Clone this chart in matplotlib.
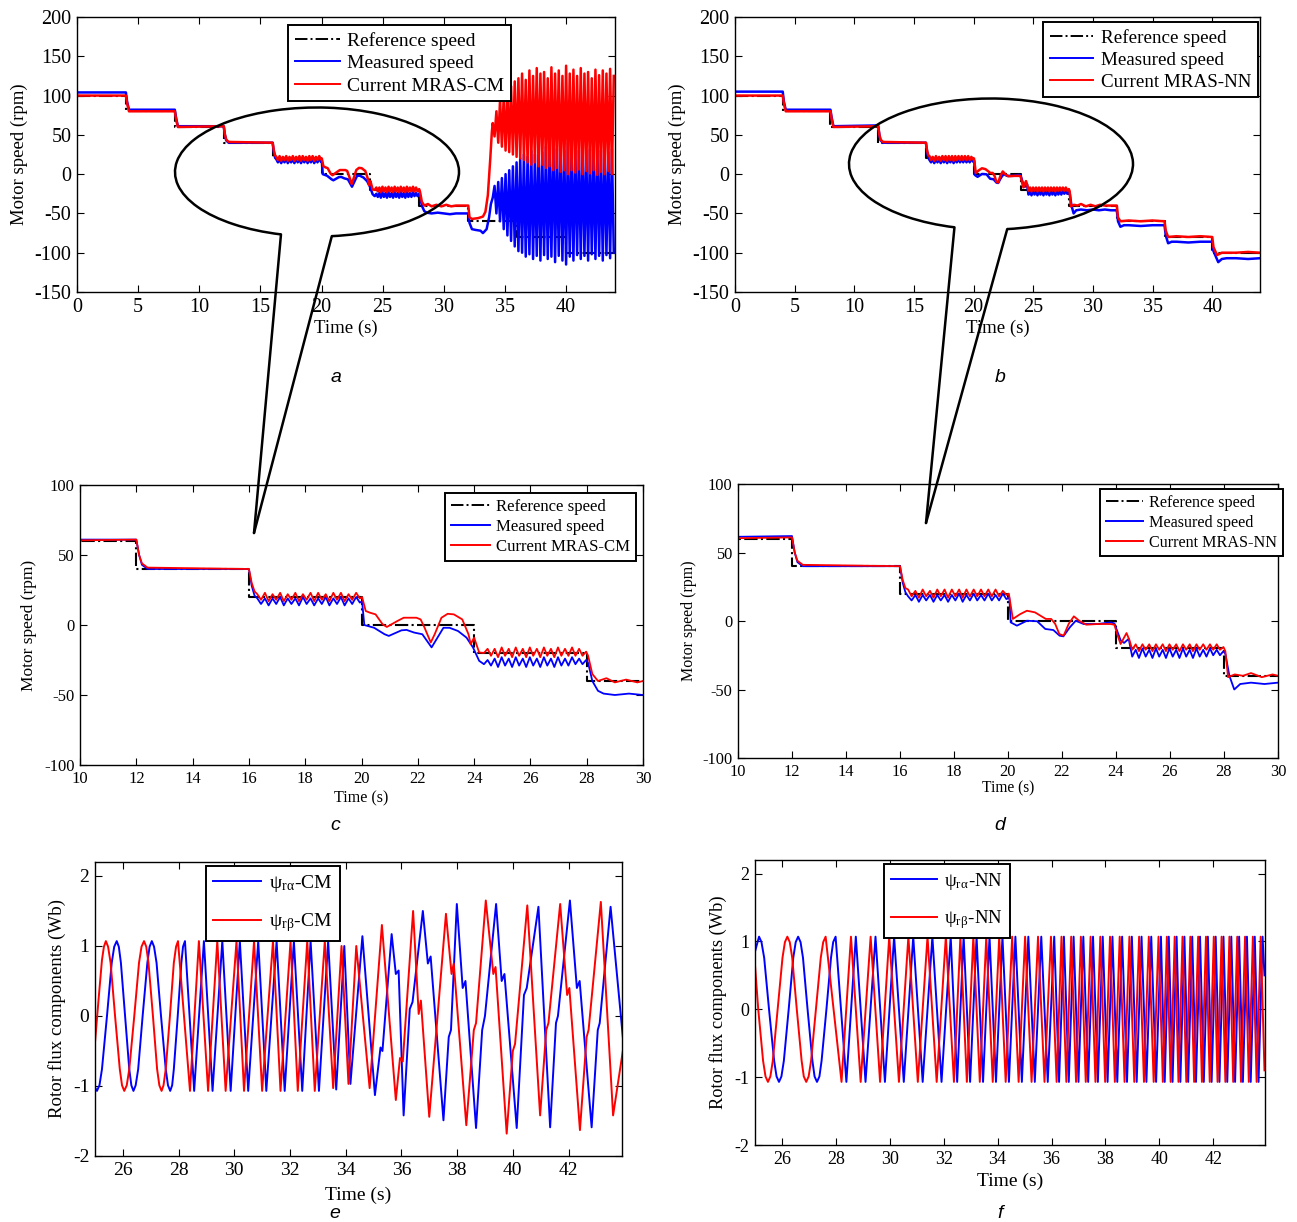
import matplotlib
matplotlib.use("Agg")
import matplotlib.pyplot as plt
from matplotlib.patches import Arc
import numpy as np

W, H = 1297, 1222
BLUE = "#0000ff"
RED = "#ff0000"
SERIF = "Liberation Serif"

# --- speed reference (same step profile for both observers) ---
STEP_T = [0, 4, 8, 12, 16, 20, 24, 28, 32, 36, 40, 44]
REF_LEVELS = [100, 80, 60, 40, 20, 0, -20, -40, -60, -80, -100]

# --- speed ripple during the 20 rpm and -20 rpm steps (extrema) ---
RIPPLE16_T = [16.30, 16.43, 16.57, 16.70, 16.84, 16.97, 17.11, 17.24, 17.38, 17.51,
              17.65, 17.78, 17.92, 18.05, 18.19, 18.32, 18.46, 18.59, 18.73, 18.86,
              19.00, 19.13, 19.27, 19.40, 19.54, 19.67, 19.81, 19.94]
CM_MEAS_R16 = [19, 15, 19, 14, 19, 15, 20, 14, 19, 15, 19, 14, 20, 15,
               19, 14, 19, 15, 20, 14, 19, 15, 20, 14, 19, 15, 20, 16]
CM_EST_R16 = [22, 18, 23, 17, 22, 18, 23, 17, 22, 18, 23, 17, 22, 18,
              23, 17, 23, 18, 22, 17, 23, 18, 23, 17, 22, 18, 23, 19]
NN_MEAS_R16 = [18, 15, 19, 14, 19, 15, 19, 14, 19, 15, 19, 14, 19, 15,
               20, 14, 19, 15, 20, 15, 19, 15, 20, 15, 19, 15, 20, 16]
NN_EST_R16 = [23, 18, 22, 17, 23, 18, 22, 17, 23, 18, 23, 17, 23, 18,
              23, 17, 23, 18, 23, 18, 23, 18, 23, 18, 23, 18, 22, 19]

RIPPLE24_T = [24.60, 24.73, 24.85, 24.98, 25.10, 25.23, 25.35, 25.48, 25.60, 25.73,
              25.85, 25.98, 26.10, 26.23, 26.35, 26.48, 26.60, 26.73, 26.85, 26.98,
              27.10, 27.23, 27.35, 27.48, 27.60, 27.73, 27.85, 27.98]
CM_MEAS_R24 = [-29, -24, -30, -23, -29, -24, -30, -23, -29, -24, -30, -23, -29, -24,
               -30, -23, -29, -24, -30, -23, -29, -24, -29, -23, -28, -24, -28, -25]
CM_EST_R24 = [-22, -17, -23, -16, -22, -17, -23, -16, -22, -17, -23, -16, -22, -17,
              -23, -16, -22, -17, -23, -16, -22, -17, -22, -16, -22, -17, -22, -19]
NN_MEAS_R24 = [-26, -21, -27, -20, -26, -21, -27, -20, -26, -21, -27, -20, -26, -21,
               -27, -20, -26, -21, -27, -20, -26, -21, -26, -20, -25, -21, -25, -22]
NN_EST_R24 = [-21, -17, -22, -17, -21, -17, -22, -17, -21, -17, -22, -17, -21, -17,
              -22, -17, -21, -17, -22, -17, -21, -17, -21, -17, -21, -17, -21, -19]

# --- early steps (0 - 16 s) ---
EARLY_T = [0, 4.0, 4.1, 4.25, 8.0, 8.1, 8.25, 12.0, 12.1, 12.2, 12.4, 16.0, 16.1, 16.2]
CM_MEAS_EARLY = [104, 104, 92, 82, 82, 72, 61, 61, 50, 43, 40, 40, 28, 21]
CM_EST_EARLY = [100, 100, 90, 80, 80, 70, 60, 61, 50, 44, 41, 40, 30, 24]
NN_MEAS_EARLY = [105, 105, 92, 82, 82, 72, 61, 62, 50, 43, 40, 40, 28, 21]
NN_EST_EARLY = [100, 100, 90, 80, 80, 70, 60, 61, 50, 44, 41, 40, 30, 24]

# --- zero speed step (20 - 24.5 s) ---
CM_MEAS_MID_T = [20.02, 20.10, 20.45, 20.82, 20.97, 21.42, 21.60, 21.87, 22.16, 22.49,
                 22.70, 22.91, 23.13, 23.43, 23.73, 23.96, 24.18, 24.35, 24.48]
CM_MEAS_MID = [17, 0, -2, -6.6, -7.8, -3.8, -3.5, -5.4, -6.6, -16,
               -9, -2, -2, -4.3, -9, -16, -25.6, -28, -25]
CM_EST_MID_T = [20.02, 20.15, 20.30, 20.50, 20.75, 20.90, 21.27, 21.50, 21.95, 22.10,
                22.24, 22.46, 22.60, 22.84, 23.06, 23.28, 23.58, 23.80, 23.88, 24.00,
                24.18, 24.35, 24.48]
CM_EST_MID = [20, 10, 8.8, 7.6, 0.5, -1.4, 2.8, 5.2, 5.2, 4,
              -1.9, -12.5, -6.6, 5.2, 8, 7.6, 4, -6.6, -13.7, -9,
              -19.6, -20, -17]
NN_MEAS_MID_T = [20.05, 20.10, 20.33, 20.70, 21.08, 21.38, 21.68, 21.91, 22.05, 22.29,
                 22.51, 22.80, 23.33, 23.79, 23.94, 24.17, 24.30, 24.47]
NN_MEAS_MID = [17, -1, -3.4, 0.2, -0.2, -5.8, -6.6, -10.7, -11.2, -4.6,
               0.2, -2.2, -2.2, -1, -1.7, -14, -16, -13]
NN_EST_MID_T = [20.03, 20.18, 20.45, 20.70, 21.00, 21.40, 21.60, 21.75, 21.90, 22.06,
                22.25, 22.44, 22.65, 22.90, 23.33, 23.79, 23.94, 24.05, 24.17, 24.39,
                24.50]
NN_EST_MID = [20, 1.5, 5, 7.5, 6.3, 1.5, 1.5, -2.2, -9.5, -10.7,
              -2, 3.4, 0, -2.7, -2.2, -2.2, -2.7, -10, -16.8, -8.8,
              -14]

# --- late steps (28 s onwards) ---
CM_MEAS_LATE_T = [28.05, 28.2, 28.4, 28.6, 29.0, 29.5, 30.0, 30.5, 31.0, 31.5, 32.0,
                  32.1, 32.3, 32.6, 33.0, 33.2, 33.5, 33.7, 33.85]
CM_MEAS_LATE = [-27, -40, -47, -49, -50, -49, -50, -51, -50, -50, -50,
                -62, -70, -71, -72, -75, -70, -55, -38]
CM_EST_LATE_T = [28.05, 28.2, 28.4, 28.7, 29.0, 29.4, 29.8, 30.2, 30.6, 31.0, 31.5,
                 32.0, 32.1, 32.3, 32.8, 33.2, 33.4, 33.6, 33.8, 33.93]
CM_EST_LATE = [-22, -35, -40, -38, -41, -39, -41, -39, -41, -40, -40,
               -40, -55, -57, -56, -54, -48, -27, 20, 54]
NN_MEAS_LATE_T = [28.05, 28.2, 28.38, 28.6, 29.0, 29.5, 30.0, 30.5, 31.0, 31.5, 32.0,
                  32.1, 32.3, 32.6, 33.0, 34.0, 35.0, 36.0, 36.1, 36.3, 36.6, 37.0,
                  38.0, 39.0, 40.0, 40.1, 40.5, 40.8, 41.2, 42.0, 43.0, 44.0]
NN_MEAS_LATE = [-24, -40, -50, -46, -45, -46, -45, -46, -45, -46, -46,
                -60, -67, -65, -65, -66, -65, -65, -78, -88, -86, -86,
                -87, -86, -86, -98, -112, -108, -107, -107, -108, -107]
NN_EST_LATE_T = [28.05, 28.15, 28.4, 28.7, 29.0, 29.4, 29.8, 30.2, 30.6, 31.0, 31.5,
                 32.0, 32.1, 32.3, 33.0, 34.0, 35.0, 36.0, 36.1, 36.3, 37.0, 38.0,
                 39.0, 40.0, 40.1, 40.4, 40.8, 42.0, 43.0, 44.0]
NN_EST_LATE = [-22, -41, -39, -40, -38, -41, -39, -41, -39, -40, -40,
               -40, -55, -60, -59, -60, -59, -60, -72, -80, -79, -80,
               -79, -80, -93, -103, -100, -100, -99, -100]

# --- CM observer instability after 34 s (oscillation extrema) ---
OSC_T = [34.00, 34.15, 34.30, 34.45, 34.60, 34.75, 34.90, 35.05, 35.20, 35.35,
         35.50, 35.65, 35.80, 35.95, 36.10, 36.25, 36.40, 36.55, 36.70, 36.85,
         37.00, 37.15, 37.30, 37.45, 37.60, 37.75, 37.90, 38.05, 38.20, 38.35,
         38.50, 38.65, 38.80, 38.95, 39.10, 39.25, 39.40, 39.55, 39.70, 39.85,
         40.00, 40.15, 40.30, 40.45, 40.60, 40.75, 40.90, 41.05, 41.20, 41.35,
         41.50, 41.65, 41.80, 41.95, 42.10, 42.25, 42.40, 42.55, 42.70, 42.85,
         43.00, 43.15, 43.30, 43.45, 43.60, 43.75, 43.90]
CM_EST_OSC = [65, 48, 80, 40, 95, 35, 100, 30, 105, 28,
              112, 25, 118, 22, 122, 20, 128, 18, 120, 15,
              132, 12, 125, 15, 135, 10, 128, 12, 130, 8,
              122, 10, 136, 5, 128, 8, 132, 3, 125, 5,
              138, 0, 128, 5, 133, 2, 125, 6, 135, 0,
              128, 4, 130, 1, 122, 5, 133, -1, 126, 3,
              132, 0, 128, 4, 134, 0, 125]
CM_MEAS_OSC = [-30, -15, -50, -10, -60, -5, -70, 0, -78, 5,
               -85, 10, -92, 15, -98, 20, -100, 25, -105, 22,
               -102, 30, -108, 25, -104, 35, -110, 28, -103, 35,
               -108, 30, -105, 45, -112, 32, -104, 38, -110, 30,
               -115, 40, -105, 28, -110, 35, -103, 30, -108, 38,
               -104, 30, -110, 32, -102, 28, -108, 35, -104, 30,
               -110, 33, -103, 28, -107, 32, -100]

# --- rotor flux, CM observer (extrema and shoulders) ---
E_ALPHA_T = [25.00, 25.07, 25.16, 25.25, 25.43, 25.60, 25.69, 25.78,
             25.855, 25.93, 26.08, 26.23, 26.305, 26.38,
             26.46, 26.55, 26.71, 26.88, 26.96, 27.04,
             27.12, 27.21, 27.37, 27.54, 27.62, 27.70,
             27.77, 27.83, 27.97, 28.10, 28.16, 28.23,
             28.56, 28.91, 29.22, 29.57, 29.87, 30.20, 30.50, 30.86,
             31.15, 31.52, 31.81, 32.14, 32.44, 32.74, 33.04, 33.37, 33.66, 33.95,
             34.17, 34.60, 35.05, 35.25, 35.32, 35.65, 35.80, 35.90, 36.08, 36.30,
             36.40, 36.77, 36.95, 37.05, 37.51, 37.70, 37.78, 37.99, 38.20, 38.30,
             38.68, 38.90, 39.00, 39.40, 39.60, 39.70, 40.14, 40.40, 40.50, 40.92,
             41.34, 41.55, 41.62, 42.05, 42.30, 42.40, 42.83, 43.05, 43.12, 43.51,
             43.95]
E_ALPHA = [-1.02, -1.07, -0.99, -0.76, 0.0, 0.76, 0.99, 1.07,
           0.99, 0.76, 0.0, -0.76, -0.99, -1.07,
           -0.99, -0.76, 0.0, 0.76, 0.99, 1.07,
           0.99, 0.76, 0.0, -0.76, -0.99, -1.07,
           -0.99, -0.76, 0.0, 0.76, 0.99, 1.07,
           -1.07, 1.07, -1.07, 1.07, -1.07, 1.07, -1.07, 1.07,
           -1.07, 1.07, -1.07, 1.07, -1.07, 1.07, -1.07, 1.07, -1.05, 1.00,
           -0.97, 1.14, -1.13, -0.45, -0.50, 1.17, 0.60, 0.65, -1.42, 0.10,
           0.20, 1.50, 0.75, 0.85, -1.49, -0.30, -0.20, 1.60, 0.40, 0.50,
           -1.60, -0.20, 0.00, 1.60, 0.50, 0.60, -1.60, 0.30, 0.40, 1.56,
           -1.59, -0.10, 0.00, 1.65, 0.40, 0.50, -1.59, -0.20, -0.10, 1.56,
           -0.30]
E_BETA_T = [25.00, 25.12, 25.25, 25.32, 25.39,
            25.47, 25.56, 25.72, 25.89, 25.97, 26.05,
            26.14, 26.23, 26.41, 26.58, 26.67, 26.76,
            26.84, 26.92, 27.08, 27.23, 27.31, 27.39,
            27.46, 27.54, 27.69, 27.83, 27.91, 27.98,
            28.41, 28.73, 29.06, 29.39, 29.69, 30.08, 30.35, 30.71, 31.00, 31.39,
            31.66, 32.02, 32.28, 32.62, 32.89, 33.25, 33.55, 33.85, 34.10, 34.38,
            34.86, 35.30, 35.80, 35.95, 36.05, 36.42, 36.62, 36.70, 37.00, 37.60,
            37.80, 37.88, 38.33, 38.60, 38.68, 39.03, 39.30, 39.38, 39.78, 40.00,
            40.08, 40.52, 40.98, 41.20, 41.28, 41.70, 41.95, 42.03, 42.41, 42.65,
            42.72, 43.16, 43.60, 43.95]
E_BETA = [-0.38, 0.20, 0.80, 0.99, 1.07,
          0.99, 0.76, 0.0, -0.76, -0.99, -1.07,
          -0.99, -0.76, 0.0, 0.76, 0.99, 1.07,
          0.99, 0.76, 0.0, -0.76, -0.99, -1.07,
          -0.99, -0.76, 0.0, 0.76, 0.99, 1.07,
          -1.07, 1.07, -1.07, 1.07, -1.07, 1.07, -1.07, 1.07, -1.07, 1.07,
          -1.07, 1.07, -1.07, 1.07, -1.07, 1.07, -1.03, 1.00, -0.97, 1.00,
          -1.03, 1.30, -1.20, -0.60, -0.65, 1.50, 0.03, 0.22, -1.44, 1.46,
          0.60, 0.75, -1.56, -0.20, -0.10, 1.65, 0.60, 0.70, -1.68, -0.50,
          -0.40, 1.58, -1.42, -0.20, -0.10, 1.60, 0.30, 0.40, -1.63, -0.30,
          -0.20, 1.63, -1.42, -0.50]

# --- rotor flux, NN observer (panel f) ---
F_ALPHA_T = [25.00, 25.15, 25.24, 25.34, 25.52, 25.71, 25.80, 25.89,
             25.98, 26.07, 26.25, 26.42, 26.51, 26.60,
             26.69, 26.78, 26.95, 27.13, 27.21, 27.30,
             27.39, 27.47, 27.65, 27.82, 27.90, 27.99,
             28.39, 28.74, 29.10, 29.47, 29.82, 30.16, 30.52, 30.87, 31.22, 31.58,
             31.92, 32.26, 32.50, 32.74, 32.98, 33.22, 33.46, 33.70, 33.94, 34.18,
             34.42, 34.66, 34.90, 35.14, 35.38, 35.62, 35.86, 36.10, 36.28, 36.46,
             36.64, 36.82, 37.00, 37.18, 37.36, 37.54, 37.72, 37.90, 38.08, 38.26,
             38.44, 38.62, 38.80, 38.98, 39.16, 39.34, 39.52, 39.70, 39.88, 40.06,
             40.20, 40.35, 40.49, 40.64, 40.78, 40.93, 41.07, 41.22, 41.36, 41.51,
             41.65, 41.80, 41.94, 42.09, 42.23, 42.38, 42.52, 42.67, 42.81, 42.96,
             43.10, 43.25, 43.39, 43.54, 43.68, 43.83, 43.90]
F_ALPHA = ([0.85, 1.07, 0.99, 0.76, 0.0, -0.76, -0.99, -1.07,
            -0.99, -0.76, 0.0, 0.76, 0.99, 1.07,
            0.99, 0.76, 0.0, -0.76, -0.99, -1.07,
            -0.99, -0.76, 0.0, 0.76, 0.99, 1.07]
           + [-1.07, 1.07] * 38 + [0.5])
F_BETA_T = [25.00, 25.12, 25.30, 25.39, 25.48,
            25.57, 25.66, 25.84, 26.02, 26.11, 26.20,
            26.29, 26.38, 26.55, 26.73, 26.81, 26.90,
            26.99, 27.08, 27.26, 27.44, 27.53, 27.62,
            28.21, 28.56, 28.92, 29.29, 29.64, 29.98, 30.34, 30.69, 31.04, 31.40,
            31.74, 32.08, 32.38, 32.62, 32.86, 33.10, 33.34, 33.58, 33.82, 34.06,
            34.30, 34.54, 34.78, 35.02, 35.26, 35.50, 35.74, 35.98, 36.19, 36.37,
            36.55, 36.73, 36.91, 37.09, 37.27, 37.45, 37.63, 37.81, 37.99, 38.17,
            38.35, 38.53, 38.71, 38.89, 39.07, 39.25, 39.43, 39.61, 39.79, 39.97,
            40.13, 40.28, 40.42, 40.57, 40.71, 40.86, 41.00, 41.15, 41.29, 41.44,
            41.58, 41.73, 41.87, 42.02, 42.16, 42.31, 42.45, 42.60, 42.74, 42.89,
            43.03, 43.18, 43.32, 43.47, 43.61, 43.76, 43.90]
F_BETA = ([0.65, 0.0, -0.76, -0.99, -1.07,
           -0.99, -0.76, 0.0, 0.76, 0.99, 1.07,
           0.99, 0.76, 0.0, -0.76, -0.99, -1.07,
           -0.99, -0.76, 0.0, 0.76, 0.99, 1.07]
          + [-1.07, 1.07] * 38 + [-0.9])


def join(*parts):
    t, v = [], []
    for pt, pv in parts:
        t += list(pt)
        v += list(pv)
    return np.array(t), np.array(v)


def style(ax, xlim, ylim, xticks, yticks, size):
    ax.set_xlim(xlim)
    ax.set_ylim(ylim)
    ax.set_xticks(xticks)
    ax.set_yticks(yticks)
    ax.tick_params(direction="in", top=True, right=True, length=5, width=0.8,
                   labelsize=size, pad=4)
    for s in ax.spines.values():
        s.set_linewidth(1.0)
    for lab in ax.get_xticklabels() + ax.get_yticklabels():
        lab.set_family(SERIF)


def legend(ax, fig, x, y, size, hl, spacing):
    leg = ax.legend(loc="upper left", bbox_to_anchor=(x / W, 1 - y / H),
                    bbox_transform=fig.transFigure, frameon=True,
                    fancybox=False, edgecolor="black", framealpha=1, borderaxespad=0,
                    handlelength=hl, handletextpad=0.4, labelspacing=spacing,
                    borderpad=0.35, prop={"family": SERIF, "size": size})
    leg.get_frame().set_linewidth(1.4)
    return leg


plt.rcParams["axes.unicode_minus"] = False
plt.rcParams["mathtext.fontset"] = "stix"
plt.rcParams["font.family"] = SERIF

cm_meas = join((EARLY_T, CM_MEAS_EARLY), (RIPPLE16_T, CM_MEAS_R16), (CM_MEAS_MID_T, CM_MEAS_MID),
               (RIPPLE24_T, CM_MEAS_R24), (CM_MEAS_LATE_T, CM_MEAS_LATE), (OSC_T, CM_MEAS_OSC))
cm_est = join((EARLY_T, CM_EST_EARLY), (RIPPLE16_T, CM_EST_R16), (CM_EST_MID_T, CM_EST_MID),
              (RIPPLE24_T, CM_EST_R24), (CM_EST_LATE_T, CM_EST_LATE), (OSC_T, CM_EST_OSC))
nn_meas = join((EARLY_T, NN_MEAS_EARLY), (RIPPLE16_T, NN_MEAS_R16), (NN_MEAS_MID_T, NN_MEAS_MID),
               (RIPPLE24_T, NN_MEAS_R24), (NN_MEAS_LATE_T, NN_MEAS_LATE))
nn_est = join((EARLY_T, NN_EST_EARLY), (RIPPLE16_T, NN_EST_R16), (NN_EST_MID_T, NN_EST_MID),
              (RIPPLE24_T, NN_EST_R24), (NN_EST_LATE_T, NN_EST_LATE))
ref_v = REF_LEVELS + [REF_LEVELS[-1]]

fig = plt.figure(figsize=(W / 100, H / 100), dpi=100)


def box(l, t, r, b):
    return [l / W, 1 - b / H, (r - l) / W, (b - t) / H]


speed_panels = [
    (box(77, 17, 615, 292), cm_meas, cm_est, "Current MRAS-CM", (0, 44), (-150, 200),
     np.arange(0, 41, 5), np.arange(-150, 201, 50), 14.5, 1.8, (288, 25), 14, 13.5, 13.5,
     -0.091, -0.102),
    (box(735, 17, 1260, 292), nn_meas, nn_est, "Current MRAS-NN", (0, 44), (-150, 200),
     np.arange(0, 41, 5), np.arange(-150, 201, 50), 14.5, 1.8, (1043, 22), 13.7, 13.5, 13.5,
     -0.093, -0.102),
    (box(80, 485, 643, 765), cm_meas, cm_est, "Current MRAS-CM", (10, 30), (-100, 100),
     np.arange(10, 31, 2), np.arange(-100, 101, 50), 12, 1.3, (445, 493), 12.1, 12.5, 11.6,
     -0.076, -0.089),
    (box(738, 484, 1278, 758), nn_meas, nn_est, "Current MRAS-NN", (10, 30), (-100, 100),
     np.arange(10, 31, 2), np.arange(-100, 101, 50), 11.8, 1.3, (1100, 489), 11.6, 11.5, 11.2,
     -0.076, -0.080),
]

for (rect, meas, est, est_label, xlim, ylim, xt, yt, tsize, lw, lpos, lsize,
     ysize, xsize, ylx, xly) in speed_panels:
    ax = fig.add_axes(rect)
    ax.step(STEP_T, ref_v, where="post", color="black", linestyle="-.", linewidth=1.5,
            label="Reference speed")
    ax.plot(meas[0], meas[1], color=BLUE, linewidth=lw, label="Measured speed")
    ax.plot(est[0], est[1], color=RED, linewidth=lw, label=est_label)
    style(ax, xlim, ylim, xt, yt, tsize)
    ax.set_ylabel("Motor speed (rpm)", fontsize=ysize, family=SERIF)
    ax.set_xlabel("Time (s)", fontsize=xsize, family=SERIF)
    ax.yaxis.set_label_coords(ylx, 0.5)
    ax.xaxis.set_label_coords(0.5, xly)
    ax.xaxis.label.set_va("top")
    leg = legend(ax, fig, lpos[0], lpos[1], lsize, 2.3, 0.25)
    for h in leg.legend_handles:
        h.set_linewidth(1.4)

flux_panels = [
    (box(95, 862, 622, 1156), E_ALPHA_T, E_ALPHA, E_BETA_T, E_BETA, "CM", (206, 866), 14, 14,
     13.6, -0.055, -0.105),
    (box(755, 860, 1265, 1145), F_ALPHA_T, F_ALPHA, F_BETA_T, F_BETA, "NN", (884, 864), 13.4,
     13, 13.2, -0.055, -0.098),
]

for rect, at, av, bt, bv, tag, lpos, lsize, tsize, ysize, ylx, xly in flux_panels:
    ax = fig.add_axes(rect)
    ax.plot(at, av, color=BLUE, linewidth=1.4, label="ψ$_{\\mathregular{r\\alpha}}$-" + tag)
    ax.plot(bt, bv, color=RED, linewidth=1.4, label="ψ$_{\\mathregular{r\\beta}}$-" + tag)
    style(ax, (25, 43.92), (-2, 2.2), np.arange(26, 43, 2), np.arange(-2, 3, 1), tsize)
    ax.set_ylabel("Rotor flux components (Wb)", fontsize=ysize, family=SERIF)
    ax.set_xlabel("Time (s)", fontsize=14, family=SERIF)
    ax.yaxis.set_label_coords(ylx, 0.5)
    ax.xaxis.set_label_coords(0.5, xly)
    ax.xaxis.label.set_va("top")
    legend(ax, fig, lpos[0], lpos[1], lsize, 2.5, 0.9)

for letter, x, y in [("a", 336, 377), ("b", 1000, 377), ("c", 335, 825),
                     ("d", 1000, 825), ("e", 335, 1213), ("f", 1000, 1213)]:
    fig.text(x / W, 1 - y / H, letter, style="italic", family="Liberation Sans",
             fontsize=14, ha="center", va="center")

# zoom call-out bubbles, drawn in pixel coordinates of the whole figure
over = fig.add_axes([0, 0, 1, 1], zorder=10)
over.set_xlim(0, W)
over.set_ylim(H, 0)
over.axis("off")
over.patch.set_alpha(0)
for cx, cy, ew, eh, gap1, gap2, tip in [(317, 172, 284, 129, 77, 120, (254, 533)),
                                         (991, 164, 284, 131, 76, 120, (926, 523))]:
    over.add_patch(Arc((cx, cy), ew, eh, theta1=gap2, theta2=gap1, color="black",
                       linewidth=1.8))
    for g in (gap1, gap2):
        th = np.deg2rad(g)
        r = 1 / np.sqrt((np.cos(th) / (ew / 2)) ** 2 + (np.sin(th) / (eh / 2)) ** 2)
        over.plot([cx + r * np.cos(th), tip[0]], [cy + r * np.sin(th), tip[1]],
                  color="black", linewidth=1.8, solid_capstyle="round")

fig.savefig("out.png", dpi=100, facecolor="white")
